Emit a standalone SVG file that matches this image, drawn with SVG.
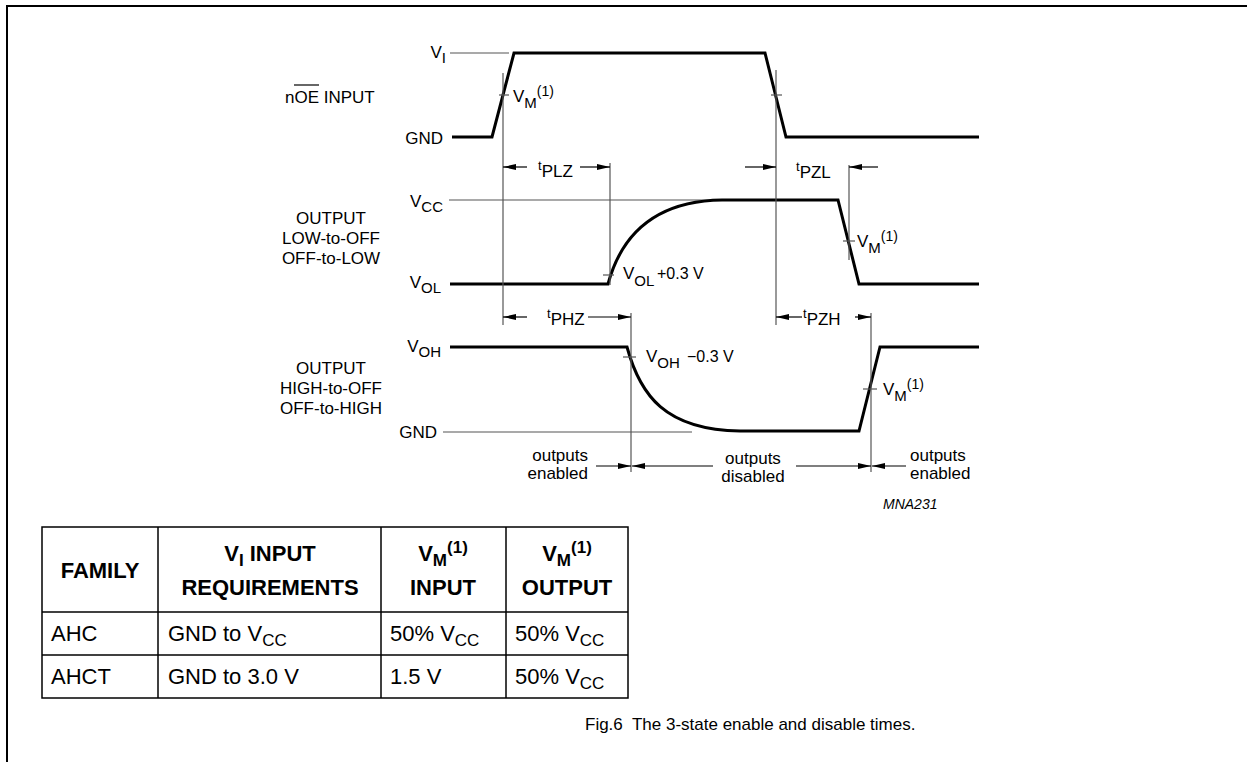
<svg xmlns="http://www.w3.org/2000/svg" width="1247" height="762" viewBox="0 0 1247 762">
<style>
text{font-family:"Liberation Sans",Arial,sans-serif;fill:#000}
.l{font-size:17px}
.s{font-size:15px}
.m{font-size:16px}
.ts{font-size:14px}
.tt{font-size:13px}
.tb{font-size:22px}
.tbs{font-size:17px}
.b{font-weight:bold}
.thin{stroke:#555;stroke-width:1.2;fill:none}
.wave{stroke:#000;stroke-width:3;fill:none;stroke-linejoin:miter}
.arr{stroke:#000;stroke-width:1.2;fill:none;marker-end:url(#ah)}
.grid{stroke:#000;stroke-width:1.5;fill:none}
</style>
<defs>
<marker id="ah" viewBox="0 0 13 6" refX="13" refY="3" markerWidth="13" markerHeight="6" orient="auto" markerUnits="userSpaceOnUse">
<path d="M0,0 L13,3 L0,6 z" fill="#000"/>
</marker>
</defs>
<rect width="1247" height="762" fill="#fff"/>
<path d="M7,762 V6 H1247" fill="none" stroke="#000" stroke-width="2"/>

<g id="noe-input">
<line class="thin" x1="450" y1="53" x2="509" y2="53"/>
<path class="wave" d="M452,137 H492 L514,53 H765 L786,137 H979"/>
<text class="l" x="446" y="58" text-anchor="end">V<tspan class="s" dy="5">I</tspan></text>
<text class="l" x="443" y="144" text-anchor="end">GND</text>
<text class="l" x="285" y="103">nOE INPUT</text>
<line x1="294" y1="85" x2="319" y2="85" stroke="#000" stroke-width="1.2"/>
<line class="thin" x1="499" y1="95" x2="509" y2="95"/>
<text class="l" x="513" y="102">V<tspan class="s" dy="6">M</tspan><tspan class="ts" dy="-12">(1)</tspan></text>
<line class="thin" x1="771" y1="95" x2="782" y2="95"/>
</g>

<g id="output-low">
<line class="thin" x1="449" y1="200" x2="722" y2="200"/>
<path class="wave" d="M450,284 H608 C620,240 650,201 722,200 H838 L859,284 H979"/>
<text class="l" x="443" y="207" text-anchor="end">V<tspan class="s" dy="5">CC</tspan></text>
<text class="l" x="441" y="288" text-anchor="end">V<tspan class="s" dy="5">OL</tspan></text>
<text class="l" text-anchor="middle"><tspan x="331" y="224">OUTPUT</tspan><tspan x="331" y="244">LOW-to-OFF</tspan><tspan x="331" y="264">OFF-to-LOW</tspan></text>
<line class="thin" x1="603" y1="275" x2="614" y2="275"/>
<text class="l" x="623" y="279">V<tspan class="s" dy="7">OL</tspan><tspan class="m" x="657" dy="-7">+0.3 V</tspan></text>
<line class="thin" x1="843" y1="241" x2="855" y2="241"/>
<text class="l" x="857" y="247">V<tspan class="s" dy="6">M</tspan><tspan class="ts" dy="-12">(1)</tspan></text>
</g>

<g id="output-high">
<line class="thin" x1="443" y1="432" x2="692" y2="432"/>
<path class="wave" d="M450,347 H627 C640,395 665,430 740,431 H859 L880,347 H979"/>
<text class="l" x="441" y="352" text-anchor="end">V<tspan class="s" dy="5">OH</tspan></text>
<text class="l" x="437" y="438" text-anchor="end">GND</text>
<text class="l" text-anchor="middle"><tspan x="331" y="374">OUTPUT</tspan><tspan x="331" y="394">HIGH-to-OFF</tspan><tspan x="331" y="414">OFF-to-HIGH</tspan></text>
<line class="thin" x1="623" y1="357" x2="636" y2="357"/>
<text class="l" x="646" y="362">V<tspan class="s" dy="6">OH</tspan><tspan class="m" x="687" dy="-6">−0.3 V</tspan></text>
<line class="thin" x1="863" y1="389" x2="877" y2="389"/>
<text class="l" x="883" y="395">V<tspan class="s" dy="6">M</tspan><tspan class="ts" dy="-12">(1)</tspan></text>
</g>

<g id="connectors">
<line class="thin" x1="503" y1="73" x2="503" y2="325"/>
<line class="thin" x1="610" y1="163" x2="610" y2="285"/>
<line class="thin" x1="776" y1="70" x2="776" y2="325"/>
<line class="thin" x1="849" y1="165" x2="849" y2="260"/>
<line class="thin" x1="631" y1="313" x2="631" y2="472"/>
<line class="thin" x1="871" y1="313" x2="871" y2="472"/>
<line class="arr" x1="527" y1="167" x2="503" y2="167"/>
<line class="arr" x1="580" y1="167" x2="610" y2="167"/>
<line class="arr" x1="745" y1="167" x2="776" y2="167"/>
<line class="arr" x1="878" y1="167" x2="849" y2="167"/>
<line class="arr" x1="527" y1="317" x2="503" y2="317"/>
<line class="arr" x1="588" y1="317" x2="631" y2="317"/>
<line class="arr" x1="802" y1="317" x2="776" y2="317"/>
<line class="arr" x1="855" y1="317" x2="871" y2="317"/>
<line class="arr" x1="596" y1="466" x2="631" y2="466"/>
<line class="arr" x1="713" y1="466" x2="632" y2="466"/>
<line class="arr" x1="796" y1="466" x2="871" y2="466"/>
<line class="arr" x1="906" y1="466" x2="872" y2="466"/>
</g>

<g id="time-labels">
<text class="tt" x="538" y="170">t<tspan class="l" dy="7">PLZ</tspan></text>
<text class="tt" x="796" y="171">t<tspan class="l" dy="7">PZL</tspan></text>
<text class="tt" x="547" y="318">t<tspan class="l" dy="7">PHZ</tspan></text>
<text class="tt" x="803" y="318">t<tspan class="l" dy="7">PZH</tspan></text>
</g>

<g id="state-labels">
<text class="l" text-anchor="end"><tspan x="588" y="461">outputs</tspan><tspan x="588" y="479">enabled</tspan></text>
<text class="l" text-anchor="middle"><tspan x="753" y="464">outputs</tspan><tspan x="753" y="482">disabled</tspan></text>
<text class="l" text-anchor="start"><tspan x="910" y="461">outputs</tspan><tspan x="910" y="479">enabled</tspan></text>
<text x="883" y="509" font-size="14" font-style="italic">MNA231</text>
</g>

<g id="table">
<rect class="grid" x="42" y="527" width="586" height="171"/>
<line class="grid" x1="42" y1="612" x2="628" y2="612"/>
<line class="grid" x1="42" y1="655" x2="628" y2="655"/>
<line class="grid" x1="158" y1="527" x2="158" y2="698"/>
<line class="grid" x1="381" y1="527" x2="381" y2="698"/>
<line class="grid" x1="506" y1="527" x2="506" y2="698"/>
<text class="tb b" x="100" y="578" text-anchor="middle">FAMILY</text>
<text class="tb b" x="270" y="561" text-anchor="middle">V<tspan class="tbs" dy="5">I</tspan><tspan dy="-5"> INPUT</tspan></text>
<text class="tb b" x="270" y="595" text-anchor="middle">REQUIREMENTS</text>
<text class="tb b" x="443" y="561" text-anchor="middle">V<tspan class="tbs" dy="5">M</tspan><tspan class="tbs" dy="-13">(1)</tspan></text>
<text class="tb b" x="443" y="595" text-anchor="middle">INPUT</text>
<text class="tb b" x="567" y="561" text-anchor="middle">V<tspan class="tbs" dy="5">M</tspan><tspan class="tbs" dy="-13">(1)</tspan></text>
<text class="tb b" x="567" y="595" text-anchor="middle">OUTPUT</text>
<text class="tb" x="51" y="641">AHC</text>
<text class="tb" x="168" y="641">GND to V<tspan class="tbs" dy="5">CC</tspan></text>
<text class="tb" x="390" y="641">50% V<tspan class="tbs" dy="5">CC</tspan></text>
<text class="tb" x="515" y="641">50% V<tspan class="tbs" dy="5">CC</tspan></text>
<text class="tb" x="51" y="684">AHCT</text>
<text class="tb" x="168" y="684">GND to 3.0 V</text>
<text class="tb" x="390" y="684">1.5 V</text>
<text class="tb" x="515" y="684">50% V<tspan class="tbs" dy="5">CC</tspan></text>
</g>

<text id="caption" class="l" x="585" y="730" xml:space="preserve">Fig.6  The 3-state enable and disable times.</text>
</svg>
